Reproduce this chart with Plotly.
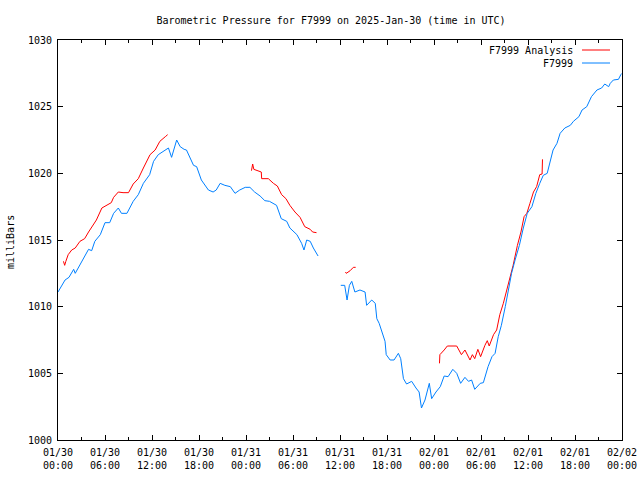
import plotly.graph_objects as go

# ---- data (hours since 2025-01-30 00:00 UTC, pressure in mbar); None marks gaps ----
obs_hours = [0.0, 0.5, 0.9, 1.4, 2.0, 2.2, 2.8, 3.4, 3.9, 4.3, 4.7, 5.4, 6.0, 6.6, 7.1, 7.7, 8.1, 8.8,
             9.6, 10.25, 10.9, 11.7, 12.2, 12.8, 13.7, 14.1, 14.5, 15.15, 15.6, 16.1, 16.4, 17.3, 17.7,
             18.3, 19.2, 19.8, 20.2, 20.7, 21.3, 22.0, 22.6, 23.2, 23.9, 24.5, 25.1, 25.8, 26.4, 27.0,
             27.9, 28.5, 29.2, 29.6, 30.5, 31.1, 31.4, 31.75, 32.2, 32.6, 33.2,
             None,
             36.1, 36.6, 36.9, 37.2, 37.5, 37.9, 38.55, 39.2, 39.4, 40.05, 40.5, 40.7, 41.0, 41.3, 41.75,
             41.9, 42.4, 42.9, 43.45, 43.75, 44.1, 44.5, 45.15, 45.7, 46.1, 46.4, 46.85, 47.4, 47.7,
             48.25, 48.8, 49.3, 49.8, 50.4, 50.9, 51.4, 51.95, 52.4, 52.8, 53.2, 53.9, 54.3, 54.9, 55.4,
             55.8, 56.2, 56.6, 57.1, 57.5, 57.9, 58.35, 58.9, 59.4, 59.9, 60.5, 61.0, 61.5, 61.95, 62.45,
             62.8, 63.2, 63.7, 64.1, 64.7, 65.4, 65.8, 66.5, 66.9, 67.5, 68.1, 68.8, 69.4, 69.8, 70.3,
             70.5, 70.9, 71.55, 71.85, 72.0]
obs_mbar = [1011.1, 1011.6, 1012.0, 1012.2, 1012.8, 1012.5, 1013.1, 1013.75, 1014.3, 1014.2, 1014.9,
            1015.4, 1016.3, 1016.3, 1017.0, 1017.4, 1017.0, 1017.0, 1017.9, 1018.4, 1019.25, 1019.9,
            1020.9, 1021.4, 1021.75, 1021.9, 1021.2, 1022.5, 1022.0, 1021.8, 1021.75, 1020.6, 1020.5,
            1019.5, 1018.75, 1018.6, 1018.75, 1019.25, 1019.1, 1019.0, 1018.5, 1018.75, 1018.95,
            1018.95, 1018.6, 1018.3, 1017.95, 1017.9, 1017.6, 1016.6, 1016.4, 1015.9, 1015.4, 1014.75,
            1014.25, 1015.0, 1014.9, 1014.4, 1013.8,
            None,
            1011.6, 1011.6, 1010.5, 1011.6, 1011.9, 1011.1, 1011.25, 1011.1, 1010.1, 1010.5, 1010.25,
            1009.1, 1008.75, 1008.25, 1007.4, 1006.4, 1006.0, 1006.0, 1006.5, 1006.1, 1004.6, 1004.2,
            1004.4, 1003.9, 1003.6, 1002.4, 1003.0, 1004.25, 1003.1, 1003.6, 1004.0, 1004.8, 1004.75,
            1005.3, 1005.0, 1004.25, 1004.7, 1004.4, 1004.5, 1003.8, 1004.25, 1004.3, 1005.5, 1006.25,
            1006.5, 1007.75, 1008.6, 1010.0, 1011.25, 1012.5, 1013.5, 1014.6, 1015.9, 1017.0, 1017.5,
            1018.5, 1019.25, 1019.85, 1020.0, 1020.75, 1021.75, 1022.25, 1023.0, 1023.4, 1023.6,
            1023.9, 1024.25, 1024.75, 1025.0, 1025.75, 1026.25, 1026.4, 1026.7, 1026.5, 1026.75,
            1027.0, 1027.05, 1027.4, 1027.5]

ana_hours = [0.7, 0.85, 1.0, 1.3, 1.75, 2.2, 2.8, 3.4, 3.9, 4.5, 4.9, 5.6, 6.2, 6.8, 7.1, 7.7, 8.3, 9.0,
             9.6, 10.25, 10.9, 11.75, 12.4, 13.0, 13.7, 14.0,
             None,
             24.7, 24.85, 25.0, 25.95, 26.0, 26.85, 27.5, 28.0, 28.55, 29.1, 29.6, 30.25, 30.9, 31.5,
             32.2, 32.5, 33.0,
             None,
             36.7, 36.8, 37.3, 37.7, 38.0,
             None,
             48.7, 48.75, 49.3, 49.7, 50.9, 51.5, 51.95, 52.6, 52.9, 53.2, 53.6, 53.95, 54.5, 54.8,
             55.05, 55.6, 56.0, 56.4, 56.85, 57.3, 57.7, 58.1, 58.65, 59.1, 59.5, 59.85, 60.25, 60.7,
             61.1, 61.5, 61.8, 61.85]
ana_mbar = [1013.4, 1013.1, 1013.4, 1013.9, 1014.25, 1014.4, 1014.9, 1015.1, 1015.6, 1016.1, 1016.5,
            1017.4, 1017.6, 1017.8, 1018.2, 1018.6, 1018.55, 1018.55, 1019.2, 1019.6, 1020.4, 1021.4,
            1021.75, 1022.4, 1022.75, 1022.9,
            None,
            1020.2, 1020.7, 1020.3, 1020.1, 1019.6, 1019.6, 1019.25, 1019.05, 1018.4, 1018.1, 1017.6,
            1017.1, 1016.7, 1016.0, 1015.8, 1015.6, 1015.55,
            None,
            1012.6, 1012.5, 1012.7, 1012.95, 1012.95,
            None,
            1005.75, 1006.4, 1006.75, 1007.05, 1007.05, 1006.4, 1006.75, 1006.0, 1006.4, 1006.1,
            1006.8, 1006.25, 1007.1, 1007.45, 1007.05, 1007.9, 1008.25, 1009.4, 1010.25, 1011.25,
            1012.25, 1013.1, 1014.6, 1015.6, 1016.75, 1017.0, 1017.75, 1018.6, 1019.0, 1019.9,
            1019.95, 1021.05]

tick_hours = [0, 6, 12, 18, 24, 30, 36, 42, 48, 54, 60, 66, 72]
tick_labels = ["01/30<br>00:00", "01/30<br>06:00", "01/30<br>12:00", "01/30<br>18:00",
               "01/31<br>00:00", "01/31<br>06:00", "01/31<br>12:00", "01/31<br>18:00",
               "02/01<br>00:00", "02/01<br>06:00", "02/01<br>12:00", "02/01<br>18:00",
               "02/02<br>00:00"]

series_names = ["F7999 Analysis", "F7999"]
RED = "#ff0000"
BLUE = "#0080ff"
FONT = dict(family="DejaVu Sans Mono", size=10, color="black")

fig = go.Figure()
fig.add_trace(go.Scatter(x=ana_hours, y=ana_mbar, mode="lines", name=series_names[0],
                         line=dict(color=RED, width=1), connectgaps=False))
fig.add_trace(go.Scatter(x=obs_hours, y=obs_mbar, mode="lines", name=series_names[1],
                         line=dict(color=BLUE, width=1), connectgaps=False))

W, H = 640, 480
L, R, T, B = 58, 18, 40, 40
pw, ph = W - L - R, H - T - B


def px_x(px):
    return (px - L) / pw


def px_y(py):
    return 1 - (py - T) / ph


fig.update_layout(
    width=W, height=H,
    margin=dict(l=L, r=R, t=T, b=B, autoexpand=False),
    paper_bgcolor="white", plot_bgcolor="white",
    showlegend=False,
    font=FONT,
    title=dict(text="Barometric Pressure for F7999 on 2025-Jan-30 (time in UTC)",
               x=331 / W, xref="container", xanchor="center",
               y=1 - 20 / H, yref="container", yanchor="middle", font=FONT, automargin=False),
    xaxis=dict(range=[0, 72], tickmode="array", tickvals=tick_hours, ticktext=tick_labels,
               showline=True, linecolor="black", linewidth=1, mirror="ticks", automargin=False,
               ticks="inside", ticklen=5, tickcolor="black", showgrid=False, zeroline=False,
               tickfont=FONT, ticklabelstandoff=3,
               minor=dict(dtick=3, tick0=0, ticks="inside", ticklen=3, tickcolor="black",
                          showgrid=False)),
    yaxis=dict(range=[1000, 1030], tickmode="linear", tick0=1000, dtick=5, automargin=False,
               showline=True, linecolor="black", linewidth=1, mirror="ticks",
               ticks="inside", ticklen=5, tickcolor="black", showgrid=False, zeroline=False,
               tickfont=FONT, ticklabelstandoff=3),
)

fig.add_annotation(text="milliBars", textangle=-90, xref="paper", yref="paper",
                   x=px_x(10), y=px_y(242), xanchor="center", yanchor="middle",
                   showarrow=False, font=FONT)

# legend drawn gnuplot-style (text then line sample)
for i, (name, col) in enumerate(zip(series_names, [RED, BLUE])):
    yy = px_y(50 + 13 * i)
    fig.add_annotation(text=name, xref="paper", yref="paper", x=px_x(575), y=yy,
                       xanchor="right", yanchor="middle", showarrow=False, font=FONT)
    fig.add_shape(type="line", xref="paper", yref="paper", x0=px_x(582), x1=px_x(610),
                  y0=yy, y1=yy, line=dict(color=col, width=1))

fig.write_html("out.html", config={"displayModeBar": False})

# remove the browser's default 8px body margin so the figure sits at the page origin
with open("out.html", "r", encoding="utf-8") as f:
    html = f.read()
html = html.replace("<body>", '<body style="margin:0;padding:0;overflow:hidden;">', 1)
with open("out.html", "w", encoding="utf-8") as f:
    f.write(html)
